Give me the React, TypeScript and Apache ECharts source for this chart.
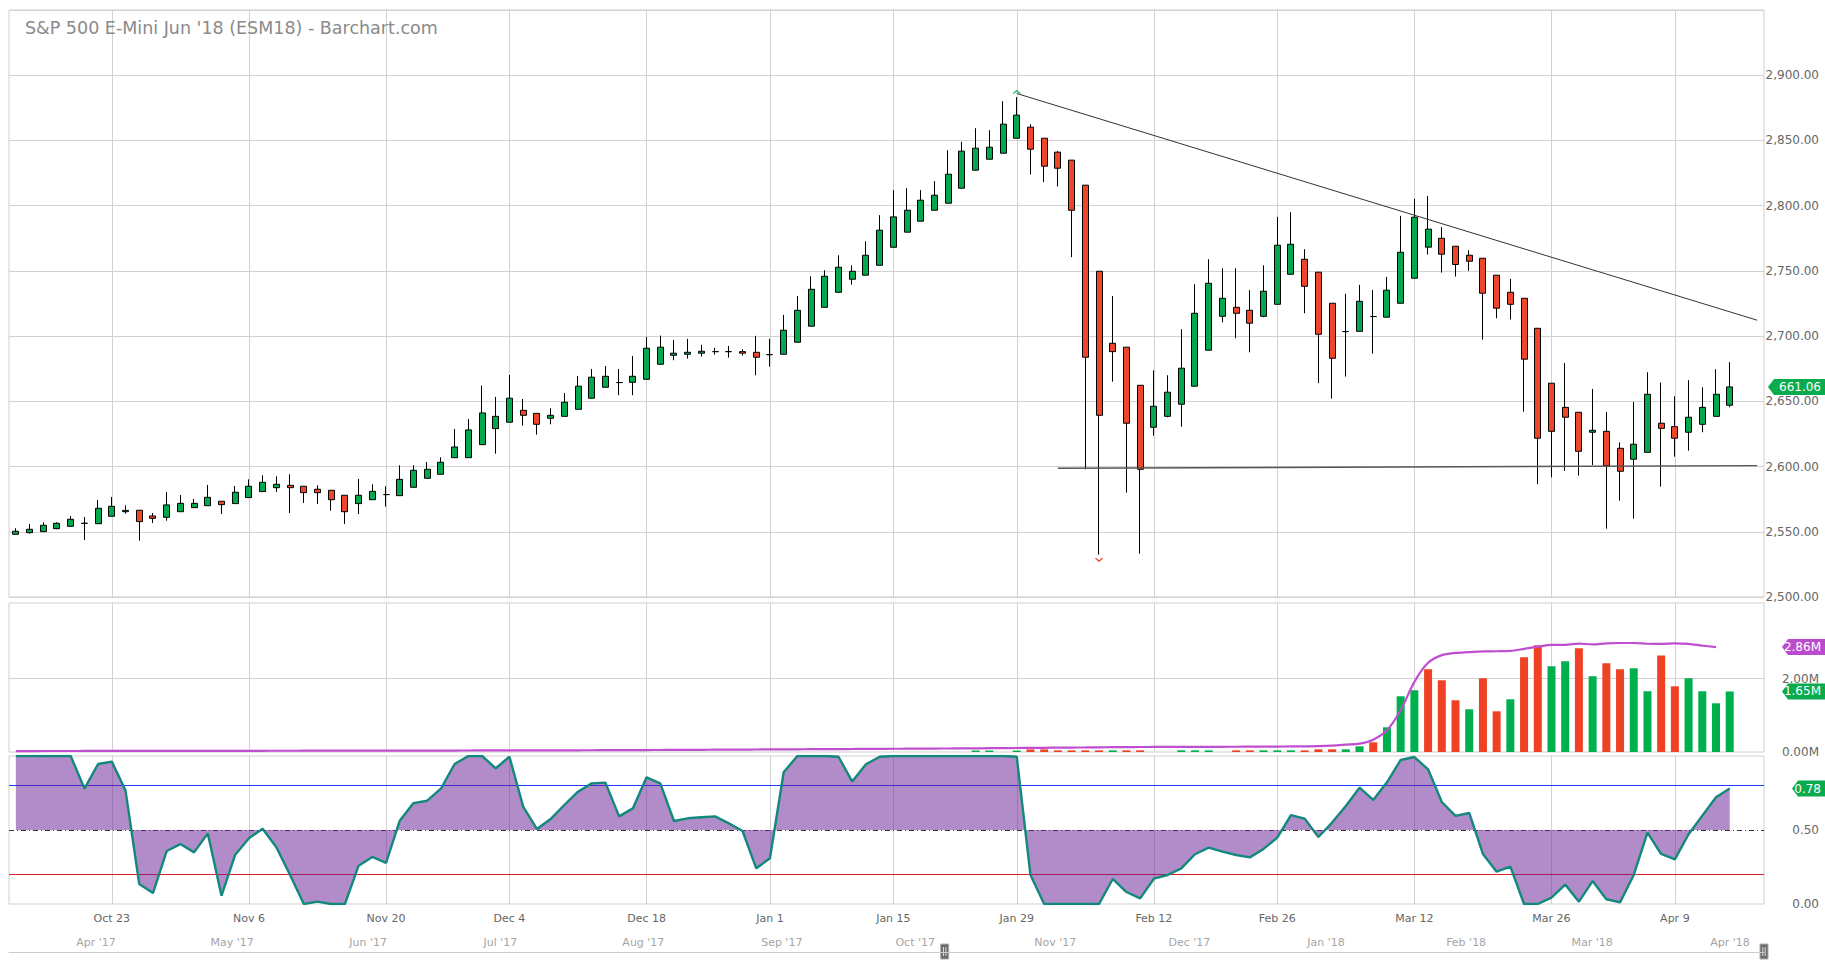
import React, { useEffect, useRef } from "react";
import * as echarts from "echarts";

// ---- categories (trading days) ----
const dates = [
  "2017-10-12","2017-10-13","2017-10-16","2017-10-17","2017-10-18","2017-10-19","2017-10-20","2017-10-23","2017-10-24","2017-10-25",
  "2017-10-26","2017-10-27","2017-10-30","2017-10-31","2017-11-01","2017-11-02","2017-11-03","2017-11-06","2017-11-07","2017-11-08",
  "2017-11-09","2017-11-10","2017-11-13","2017-11-14","2017-11-15","2017-11-16","2017-11-17","2017-11-20","2017-11-21","2017-11-22",
  "2017-11-24","2017-11-27","2017-11-28","2017-11-29","2017-11-30","2017-12-01","2017-12-04","2017-12-05","2017-12-06","2017-12-07",
  "2017-12-08","2017-12-11","2017-12-12","2017-12-13","2017-12-14","2017-12-15","2017-12-18","2017-12-19","2017-12-20","2017-12-21",
  "2017-12-22","2017-12-26","2017-12-27","2017-12-28","2017-12-29","2018-01-02","2018-01-03","2018-01-04","2018-01-05","2018-01-08",
  "2018-01-09","2018-01-10","2018-01-11","2018-01-12","2018-01-16","2018-01-17","2018-01-18","2018-01-19","2018-01-22","2018-01-23",
  "2018-01-24","2018-01-25","2018-01-26","2018-01-29","2018-01-30","2018-01-31","2018-02-01","2018-02-02","2018-02-05","2018-02-06",
  "2018-02-07","2018-02-08","2018-02-09","2018-02-12","2018-02-13","2018-02-14","2018-02-15","2018-02-16","2018-02-20","2018-02-21",
  "2018-02-22","2018-02-23","2018-02-26","2018-02-27","2018-02-28","2018-03-01","2018-03-02","2018-03-05","2018-03-06","2018-03-07",
  "2018-03-08","2018-03-09","2018-03-12","2018-03-13","2018-03-14","2018-03-15","2018-03-16","2018-03-19","2018-03-20","2018-03-21",
  "2018-03-22","2018-03-23","2018-03-26","2018-03-27","2018-03-28","2018-03-29","2018-04-02","2018-04-03","2018-04-04","2018-04-05",
  "2018-04-06","2018-04-09","2018-04-10","2018-04-11","2018-04-12","2018-04-13","2018-04-16","2018-04-17",
];

// ---- OHLC ----
const opens = [
  2548.1,2549.3,2550.1,2552.4,2554.2,2556.5,2556.2,2561.9,2565.4,2566.5,
  2562.1,2561.1,2565.4,2568.5,2570.0,2573.4,2571.6,2576.2,2580.8,2583.8,
  2585.6,2584.9,2582.6,2581.8,2578.0,2571.6,2574.6,2578.5,2577.7,2584.1,
  2591.0,2594.1,2606.8,2606.8,2616.8,2629.1,2634.0,2643.1,2640.8,2637.0,
  2638.5,2643.9,2652.4,2660.8,2664.4,2664.6,2666.9,2678.4,2685.3,2686.1,
  2686.9,2688.1,2688.1,2688.1,2687.6,2685.8,2686.1,2695.3,2707.6,2722.1,
  2733.6,2743.6,2746.7,2754.3,2768.1,2779.7,2788.1,2796.5,2801.9,2813.4,
  2827.2,2835.6,2840.2,2851.7,2860.2,2851.7,2841.0,2834.9,2815.7,2749.7,
  2694.5,2691.5,2662.3,2630.1,2638.5,2647.8,2661.6,2689.2,2715.2,2722.1,
  2719.8,2715.2,2724.4,2747.4,2758.9,2749.0,2725.2,2703.5,2703.7,2715.0,
  2714.5,2725.2,2744.4,2768.2,2775.0,2768.9,2762.0,2759.7,2746.7,2733.6,
  2729.0,2706.0,2663.9,2645.4,2641.6,2626.3,2627.0,2614.0,2605.6,2610.9,
  2633.2,2630.6,2626.3,2632.4,2638.5,2647.0,
];
const closes = [
  2550.4,2551.9,2555.0,2556.5,2559.6,2556.5,2568.0,2569.5,2566.4,2557.8,
  2560.3,2570.6,2571.8,2571.8,2576.4,2570.8,2580.3,2584.9,2587.9,2586.4,
  2583.8,2580.0,2580.0,2574.6,2565.4,2578.0,2581.0,2578.5,2590.2,2597.1,
  2597.9,2603.3,2615.0,2628.1,2641.1,2638.5,2652.4,2639.3,2632.4,2639.3,
  2649.3,2661.6,2668.5,2669.2,2664.4,2669.2,2690.7,2691.5,2686.9,2687.6,
  2688.4,2688.1,2688.1,2686.9,2683.8,2685.8,2704.5,2719.8,2735.9,2745.9,
  2752.8,2749.7,2762.0,2781.2,2791.4,2796.5,2804.2,2808.0,2824.1,2841.8,
  2844.1,2844.8,2862.5,2869.4,2843.3,2830.3,2828.7,2796.5,2683.8,2639.3,
  2688.1,2633.2,2597.9,2646.2,2657.0,2675.4,2717.5,2740.5,2729.0,2717.5,
  2709.9,2734.4,2769.7,2770.4,2738.2,2701.4,2683.0,2703.5,2726.7,2715.0,
  2735.2,2764.3,2791.2,2782.0,2762.8,2754.9,2757.4,2732.9,2721.4,2724.4,
  2682.3,2621.7,2627.0,2637.8,2611.7,2627.8,2600.7,2596.4,2617.1,2655.4,
  2629.3,2621.7,2637.8,2645.4,2655.4,2661.06,
];
const lows = [
  2548.0,2548.6,2550.0,2552.0,2554.0,2543.7,2556.0,2561.9,2563.9,2543.2,
  2556.7,2558.5,2565.4,2568.5,2570.0,2563.6,2571.6,2576.2,2580.8,2580.5,
  2564.4,2572.1,2571.3,2566.2,2556.0,2563.6,2574.6,2569.3,2577.7,2584.1,
  2591.0,2594.1,2606.8,2606.8,2616.8,2609.9,2634.0,2631.4,2624.5,2632.4,
  2638.5,2643.9,2652.4,2660.8,2654.7,2654.7,2666.9,2678.4,2681.5,2682.8,
  2684.3,2685.8,2683.5,2685.1,2670.0,2676.6,2686.1,2695.3,2707.6,2722.1,
  2733.6,2739.5,2746.7,2754.3,2768.1,2779.7,2788.1,2796.5,2801.9,2813.4,
  2827.2,2835.6,2840.2,2851.7,2823.9,2818.0,2814.7,2760.5,2597.9,2532.5,
  2665.1,2580.0,2533.2,2623.7,2637.8,2630.6,2661.6,2689.2,2710.6,2698.4,
  2687.6,2714.5,2724.4,2747.4,2717.5,2663.9,2652.1,2669.0,2703.7,2686.6,
  2714.5,2725.2,2744.4,2762.5,2748.7,2745.7,2750.0,2697.3,2713.7,2712.7,
  2642.1,2586.4,2591.8,2596.7,2593.1,2601.2,2552.4,2573.9,2560.1,2610.9,
  2584.6,2607.6,2612.2,2626.3,2638.5,2645.4,
];
const highs = [
  2552.7,2556.0,2557.3,2557.3,2562.1,2561.3,2574.4,2576.7,2570.3,2566.5,
  2564.4,2580.5,2578.2,2575.2,2585.9,2573.4,2585.1,2590.2,2593.3,2592.5,
  2594.1,2584.9,2585.6,2581.8,2578.0,2590.5,2586.4,2584.9,2601.0,2601.0,
  2603.5,2607.1,2628.8,2636.5,2662.1,2653.4,2670.2,2651.8,2640.8,2644.7,
  2656.4,2669.5,2674.8,2677.1,2674.8,2684.8,2699.4,2700.4,2697.1,2697.9,
  2693.3,2691.0,2692.5,2689.9,2700.2,2697.9,2716.3,2730.8,2745.9,2750.5,
  2762.0,2754.3,2772.7,2792.7,2811.9,2813.4,2811.9,2818.8,2842.5,2848.9,
  2859.4,2857.9,2880.1,2883.2,2862.5,2851.7,2841.8,2834.9,2815.7,2749.7,
  2730.8,2691.5,2662.3,2673.8,2670.0,2705.3,2739.8,2758.9,2752.0,2752.0,
  2735.2,2754.3,2791.4,2795.0,2766.6,2749.0,2725.2,2732.4,2739.3,2735.4,
  2745.4,2792.2,2805.2,2807.5,2783.5,2768.9,2765.8,2759.7,2746.7,2743.9,
  2729.0,2706.0,2663.9,2679.4,2641.6,2659.5,2641.9,2618.6,2649.5,2672.3,
  2664.4,2653.9,2666.2,2660.8,2674.6,2680.0,
];

// ---- volume (millions) ----
const volumes = [
  null,null,null,null,null,null,null,null,null,null,
  null,null,null,null,null,null,null,null,null,null,
  null,null,null,null,null,null,null,null,null,null,
  null,null,null,null,null,null,null,null,null,null,
  null,null,null,null,null,null,null,null,null,null,
  null,null,null,null,null,null,null,null,null,null,
  null,null,null,null,null,null,null,null,null,null,
  0.04,0.04,null,0.04,0.07,0.07,0.045,0.045,0.045,0.045,
  0.045,0.045,0.045,null,null,0.045,0.045,0.045,null,0.045,
  0.045,0.045,0.045,0.045,0.045,0.073,0.073,0.073,0.155,0.264,
  0.673,1.518,1.682,2.255,1.955,1.409,1.164,2.009,1.109,1.436,
  2.582,2.909,2.336,2.473,2.827,2.064,2.418,2.255,2.282,1.655,
  2.627,1.79,2.01,1.655,1.327,1.65,
];
const volumeAvg = [
  0.026,0.026,0.027,0.027,0.027,0.028,0.028,0.028,0.029,0.029,
  0.030,0.030,0.030,0.031,0.031,0.032,0.032,0.033,0.033,0.034,
  0.034,0.035,0.035,0.036,0.036,0.037,0.037,0.038,0.038,0.039,
  0.039,0.040,0.040,0.041,0.042,0.042,0.043,0.044,0.044,0.045,
  0.046,0.047,0.048,0.049,0.050,0.052,0.053,0.055,0.057,0.058,
  0.060,0.062,0.064,0.066,0.068,0.070,0.072,0.074,0.076,0.078,
  0.080,0.082,0.084,0.086,0.088,0.090,0.092,0.094,0.096,0.098,
  0.100,0.103,0.106,0.109,0.112,0.115,0.118,0.121,0.124,0.128,
  0.131,0.134,0.136,0.137,0.138,0.139,0.140,0.141,0.142,0.143,
  0.145,0.147,0.149,0.152,0.155,0.16,0.175,0.2,0.227,0.336,
  0.59,1.136,1.91,2.43,2.64,2.70,2.72,2.74,2.745,2.755,
  2.81,2.87,2.92,2.92,2.955,2.93,2.96,2.97,2.97,2.95,
  2.945,2.96,2.945,2.90,2.86,
];

// ---- stochastic %K ----
const stochK = [
  1,1,1,1,1,0.78,0.946,0.962,0.766,0.135,
  0.074,0.358,0.405,0.349,0.477,0.056,0.333,0.444,0.509,0.383,
  0.196,0,0.016,0,0,0.259,0.318,0.277,0.563,0.682,
  0.698,0.779,0.946,1,1,0.917,0.995,0.658,0.507,0.574,
  0.669,0.759,0.815,0.82,0.592,0.646,0.856,0.815,0.561,0.579,
  0.586,0.592,0.545,0.493,0.241,0.309,0.89,1,1,1,
  0.995,0.827,0.944,0.995,1,1,1,1,1,1,
  1,1,1,0.995,0.196,0,0,0,0,0,
  0.169,0.081,0.038,0.171,0.196,0.241,0.336,0.381,0.354,0.331,
  0.315,0.372,0.448,0.601,0.577,0.453,0.55,0.662,0.786,0.703,
  0.822,0.973,0.993,0.91,0.689,0.595,0.615,0.338,0.218,0.252,
  0,0,0.043,0.131,0.016,0.155,0.032,0.011,0.196,0.482,
  0.338,0.302,0.471,0.597,0.721,0.78,
];

// ---- axis ticks ----
const tickDates = [
  "2017-10-23","2017-11-06","2017-11-20","2017-12-04","2017-12-18","2018-01-02","2018-01-16",
  "2018-01-29","2018-02-12","2018-02-26","2018-03-12","2018-03-26","2018-04-09",
];
const tickLabels = [
  "Oct 23","Nov 6","Nov 20","Dec 4","Dec 18","Jan 1","Jan 15",
  "Jan 29","Feb 12","Feb 26","Mar 12","Mar 26","Apr 9",
];
const navStart = "2017-03-17";
const navEnd = "2018-04-13";
const navWindowStart = "2017-10-12";
const navMonths = [
  "2017-04-01","2017-05-01","2017-06-01","2017-07-01","2017-08-01","2017-09-01","2017-10-01",
  "2017-11-01","2017-12-01","2018-01-01","2018-02-01","2018-03-01","2018-04-01",
];
const navLabels = [
  "Apr '17","May '17","Jun '17","Jul '17","Aug '17","Sep '17","Oct '17",
  "Nov '17","Dec '17","Jan '18","Feb '18","Mar '18","Apr '18",
];
const trendDown = [["2018-01-29", 2886.0], ["2018-04-17", 2712.2]];
const supportLine = [["2018-02-01", 2598.7], ["2018-04-17", 2600.7]];
const stochLevels = { upper: 0.8, middle: 0.5, lower: 0.2 };

const FONT = "DejaVu Sans";
const GREEN = "#02a94c";
const RED = "#ef4528";
const GRID_C = "#d2d2d2";

const ts = (d: string) => Date.parse(d + "T00:00:00Z");

export default function App() {
  const ref = useRef<HTMLDivElement>(null);
  useEffect(() => {
    const chart = echarts.init(ref.current!, null, { renderer: "svg" });
    const tickSet = new Set(tickDates);
    const labelMap: Record<string, string> = {};
    tickDates.forEach((d, i) => (labelMap[d] = tickLabels[i]));
    const navLabelMap: Record<number, string> = {};
    navMonths.forEach((d, i) => (navLabelMap[ts(d)] = navLabels[i]));

    const catAxis = (gridIndex: number, labels: boolean) => ({
      type: "category",
      gridIndex,
      data: dates,
      boundaryGap: true,
      axisLine: { show: false },
      axisTick: { show: false },
      axisLabel: labels
        ? {
            show: true,
            interval: (_i: number, v: string) => tickSet.has(v),
            formatter: (v: string) => labelMap[v] || "",
            color: "#666",
            fontSize: 11,
            fontFamily: FONT,
            margin: 9,
          }
        : { show: false },
      splitLine: {
        show: true,
        interval: (_i: number, v: string) => tickSet.has(v),
        alignWithLabel: true,
        lineStyle: { color: GRID_C, width: 1 },
      },
    });

    const candleData = opens.map((o, i) => [o, closes[i], lows[i], highs[i]]);
    const volData = volumes.map((v, i) =>
      v == null
        ? null
        : {
            value: v,
            itemStyle: { color: i > 0 && closes[i] < closes[i - 1] ? "#ef4224" : "#00b04f" },
          }
    );

    const yLabel = {
      color: "#666",
      fontSize: 12,
      fontFamily: FONT,
      align: "right",
      margin: 55,
    };

    const option: any = {
      animation: false,
      backgroundColor: "#fff",
      textStyle: { fontFamily: FONT },
      title: {
        text: "S&P 500 E-Mini Jun '18 (ESM18) - Barchart.com",
        left: 25,
        top: 19,
        padding: 0,
        textStyle: { color: "#8a8a8a", fontSize: 17.5, fontWeight: "normal", fontFamily: FONT },
      },
      grid: [
        { left: 9, right: 61, top: 10, height: 587, show: true, borderColor: "#cfcfcf", borderWidth: 1 },
        { left: 9, right: 61, top: 603, height: 149, show: true, borderColor: "#cfcfcf", borderWidth: 1 },
        { left: 9, right: 61, top: 756, height: 148, show: true, borderColor: "#cfcfcf", borderWidth: 1 },
        { left: 9, right: 61, top: 925, height: 27, show: false },
      ],
      xAxis: [
        catAxis(0, false),
        catAxis(1, false),
        catAxis(2, true),
        {
          type: "value",
          gridIndex: 3,
          min: ts(navStart),
          max: ts(navEnd),
          axisLine: { show: true, onZero: false, lineStyle: { color: "#cccccc", width: 1 } },
          axisTick: { show: false },
          splitLine: { show: false },
          axisLabel: {
            show: true,
            inside: true,
            margin: 4,
            customValues: navMonths.map(ts),
            formatter: (v: number) => navLabelMap[v] || "",
            align: "left",
            color: "#a5a5a5",
            fontSize: 11,
            fontFamily: FONT,
          },
        },
      ],
      yAxis: [
        {
          type: "value",
          gridIndex: 0,
          position: "right",
          min: 2500,
          max: 2950,
          interval: 50,
          axisLine: { show: false },
          axisTick: { show: false },
          splitLine: { show: true, lineStyle: { color: GRID_C } },
          axisLabel: {
            ...yLabel,
            formatter: (v: number) =>
              v >= 2950 ? "" : v.toLocaleString("en-US", { minimumFractionDigits: 2, maximumFractionDigits: 2 }),
          },
        },
        {
          type: "value",
          gridIndex: 1,
          position: "right",
          min: 0,
          max: 4.06,
          interval: 2,
          axisLine: { show: false },
          axisTick: { show: false },
          splitLine: { show: false },
          axisLabel: {
            ...yLabel,
            formatter: (v: number) => (v === 0 || v === 2 ? v.toFixed(2) + "M" : ""),
          },
        },
        {
          type: "value",
          gridIndex: 2,
          position: "right",
          min: 0,
          max: 1,
          interval: 0.5,
          axisLine: { show: false },
          axisTick: { show: false },
          splitLine: { show: false },
          axisLabel: {
            ...yLabel,
            formatter: (v: number) => (v >= 1 ? "" : v.toFixed(2)),
          },
        },
        { type: "value", gridIndex: 3, show: false, min: 0, max: 1 },
      ],
      series: [
        {
          type: "candlestick",
          xAxisIndex: 0,
          yAxisIndex: 0,
          data: candleData,
          barWidth: 6.5,
          itemStyle: {
            color: GREEN,
            color0: RED,
            borderColor: "#000",
            borderColor0: "#000",
            borderColorDoji: "#000",
            borderWidth: 1,
          },
          markLine: {
            silent: true,
            symbol: "none",
            label: { show: false },
            data: [
              [
                { coord: trendDown[0], lineStyle: { color: "#333", width: 1, type: "solid" } },
                { coord: trendDown[1] },
              ],
              [
                { coord: supportLine[0], lineStyle: { color: "#555", width: 1.4, type: "solid" } },
                { coord: supportLine[1] },
              ],
            ],
          },
          markPoint: {
            silent: true,
            label: { show: false },
            data: [
              {
                coord: ["2018-01-29", highs[73]],
                symbol: "path://M0,5L5,0L10,5",
                symbolSize: [7, 3],
                symbolOffset: [0, -5],
                itemStyle: { color: "none", borderColor: "#2db36a", borderWidth: 1.2 },
              },
              {
                coord: ["2018-02-06", lows[79]],
                symbol: "path://M0,0L5,5L10,0",
                symbolSize: [7, 3],
                symbolOffset: [0, 5],
                itemStyle: { color: "none", borderColor: "#ef4528", borderWidth: 1.2 },
              },
            ],
          },
        },
        {
          type: "bar",
          xAxisIndex: 1,
          yAxisIndex: 1,
          data: volData,
          barWidth: 8,
          markLine: {
            silent: true,
            symbol: "none",
            z: 1,
            label: { show: false },
            lineStyle: { color: GRID_C, width: 1, type: "solid" },
            data: [{ yAxis: 2 }],
          },
        },
        {
          type: "line",
          xAxisIndex: 1,
          yAxisIndex: 1,
          data: volumeAvg,
          symbol: "none",
          smooth: 0.3,
          z: 4,
          lineStyle: { color: "#c04ed0", width: 2.2 },
        },
        {
          type: "line",
          xAxisIndex: 2,
          yAxisIndex: 2,
          data: stochK,
          symbol: "none",
          z: 3,
          lineStyle: { color: "#13887c", width: 2.4 },
          areaStyle: { origin: stochLevels.middle, color: "rgba(102,26,148,0.5)", opacity: 1 },
          markLine: {
            silent: true,
            symbol: "none",
            z: 1,
            label: { show: false },
            data: [
              { yAxis: stochLevels.upper, lineStyle: { color: "#1c3dff", width: 1.2, type: "solid" } },
              { yAxis: stochLevels.middle, lineStyle: { color: "#333", width: 1, type: [5, 3, 1, 3] } },
              { yAxis: stochLevels.lower, lineStyle: { color: "#e0202a", width: 1.2, type: "solid" } },
            ],
          },
        },
        { type: "line", xAxisIndex: 3, yAxisIndex: 3, data: [], symbol: "none" },
      ],
    };
    chart.setOption(option);

    const W = 1825;
    const tag = (x0: number, yc: number, text: string, color: string) => ({
      type: "group",
      children: [
        {
          type: "polygon",
          shape: { points: [[x0, yc], [x0 + 6, yc - 8], [W, yc - 8], [W, yc + 8], [x0 + 6, yc + 8]] },
          style: { fill: color },
        },
        {
          type: "text",
          x: W - 4,
          y: yc,
          style: {
            text,
            fill: "#fff",
            font: `12px "${FONT}"`,
            align: "right",
            verticalAlign: "middle",
          },
        },
      ],
    });
    const lastClose = closes[closes.length - 1];
    const lastVol = volumes[volumes.length - 1] as number;
    const lastAvg = volumeAvg[volumeAvg.length - 1];
    const lastK = stochK[stochK.length - 1];
    const yClose = chart.convertToPixel({ yAxisIndex: 0 } as any, lastClose) as number;
    const yVol = chart.convertToPixel({ yAxisIndex: 1 } as any, lastVol) as number;
    const yAvg = chart.convertToPixel({ yAxisIndex: 1 } as any, lastAvg) as number;
    const yK = chart.convertToPixel({ yAxisIndex: 2 } as any, lastK) as number;
    const hx1 = chart.convertToPixel({ xAxisIndex: 3 } as any, ts(navWindowStart)) as number;
    const hx2 = chart.convertToPixel({ xAxisIndex: 3 } as any, ts(navEnd)) as number;
    const handle = (x: number) => ({
      type: "group",
      children: [
        { type: "rect", shape: { x: x - 4, y: 944, width: 8, height: 15 }, style: { fill: "#6a6a6a", stroke: "#aaa", lineWidth: 1 } },
        { type: "line", shape: { x1: x - 1.2, y1: 947, x2: x - 1.2, y2: 956 }, style: { stroke: "#ddd", lineWidth: 1 } },
        { type: "line", shape: { x1: x + 1.2, y1: 947, x2: x + 1.2, y2: 956 }, style: { stroke: "#ddd", lineWidth: 1 } },
      ],
    });
    chart.setOption({
      graphic: [
        tag(1768, yClose, lastClose.toFixed(2).slice(1), "#0aab4e"),
        tag(1782, yAvg, lastAvg.toFixed(2) + "M", "#bb4bcc"),
        tag(1782, yVol, lastVol.toFixed(2) + "M", "#0aab4e"),
        tag(1792, yK, lastK.toFixed(2), "#0aab4e"),
        handle(hx1),
        handle(hx2),
      ],
    });

    return () => chart.dispose();
  }, []);
  return (
    <div
      ref={ref}
      style={{ position: "absolute", left: 0, top: 0, width: 1825, height: 967, background: "#fff" }}
    />
  );
}
